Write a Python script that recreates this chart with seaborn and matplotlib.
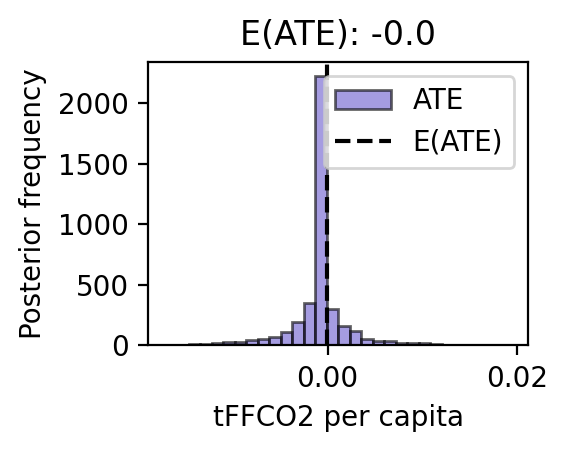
import matplotlib
matplotlib.use("Agg")
import matplotlib.pyplot as plt
import numpy as np
import pandas as pd
import seaborn as sns

# posterior ATE histogram (30 bins)
ate_min = -0.01716
ate_max = 0.01940
bin_counts = [5, 3, 8, 12, 18, 25, 25, 40, 53, 64, 105, 188, 347, 2230, 303,
              160, 118, 55, 36, 33, 19, 16, 14, 8, 5, 4, 3, 2, 2, 1]
ate_mean = -0.00002

edges = np.linspace(ate_min, ate_max, len(bin_counts) + 1)
df = pd.DataFrame({
    "ate": (edges[:-1] + edges[1:]) / 2,
    "count": bin_counts,
})

fig, ax = plt.subplots(figsize=(2.84, 2.25), dpi=200)
fig.subplots_adjust(left=0.261, right=0.930, bottom=0.233, top=0.862)

sns.histplot(data=df, x="ate", weights="count", bins=list(edges),
             color="slateblue", alpha=0.6, edgecolor=(0, 0, 0, 0.6),
             linewidth=1.0, label="ATE", ax=ax)
ax.axvline(ate_mean, color="black", linestyle="--", label="E(ATE)")

ax.set_title(f"E(ATE): {round(ate_mean, 1)}")
ax.set_xlabel("tFFCO2 per capita")
ax.set_ylabel("Posterior frequency")

handles, labels = ax.get_legend_handles_labels()
order = [labels.index("ATE"), labels.index("E(ATE)")]
ax.legend([handles[i] for i in order], [labels[i] for i in order],
          loc="upper right")

plt.savefig("out.png", dpi=200)
